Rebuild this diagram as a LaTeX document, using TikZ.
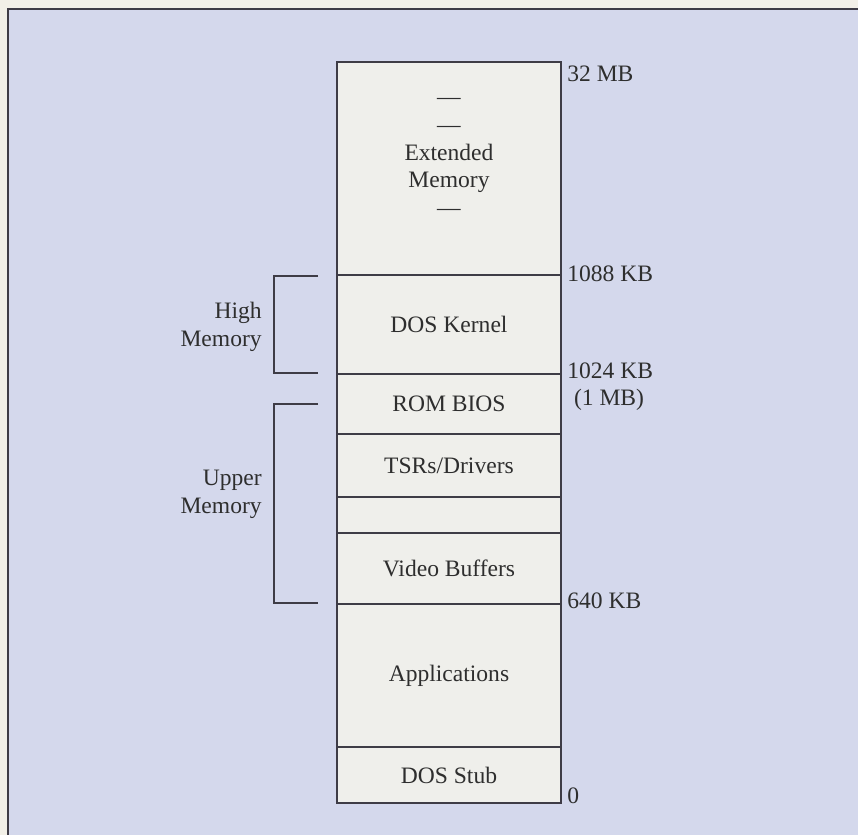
\documentclass[tikz,border=0pt]{standalone}
\usepackage{fontspec}
\setmainfont{Liberation Serif}
\definecolor{paper}{RGB}{242,240,232}
\definecolor{lav}{RGB}{212,216,236}
\definecolor{cell}{RGB}{239,239,235}
\definecolor{ink}{RGB}{62,60,70}
\begin{document}
\begin{tikzpicture}[blk/.style={draw=ink, fill=cell, line width=0.9pt, minimum width=4.48cm, inner sep=0pt},
  txt/.style={font=\fontsize{13.4}{15.9}\selectfont, text=black!82}]
  \tikzset{addr/.style={txt, anchor=base west, inner sep=0pt}}
  \tikzset{brk/.style={draw=ink, line width=0.9pt}}
  \useasboundingbox (0,0) rectangle (17.16,16.70);
  % page and panel
  \fill[paper] (0,0) rectangle (17.16,16.70);
  \fill[lav] (0.16,0) rectangle (17.16,16.52);
  \draw[ink, line width=1pt] (0.16,0) -- (0.16,16.52) -- (17.16,16.52);
  % memory blocks, top to bottom
  \node[blk, minimum height=4.26cm] (ext) at (8.98,13.33) {};
  \node[blk, minimum height=1.98cm, txt] (kern) at (8.98,10.21) {DOS Kernel};
  \node[blk, minimum height=1.20cm, txt] (rom) at (8.98,8.62) {ROM BIOS};
  \node[blk, minimum height=1.26cm, txt] (tsr) at (8.98,7.39) {TSRs/Drivers};
  \node[blk, minimum height=0.72cm] (gap) at (8.98,6.40) {};
  \node[blk, minimum height=1.42cm, txt] (vid) at (8.98,5.33) {Video Buffers};
  \node[blk, minimum height=2.86cm, txt] (app) at (8.98,3.19) {Applications};
  \node[blk, minimum height=1.12cm, txt] (stub) at (8.98,1.20) {DOS Stub};
  \node[txt, align=center] (extlbl) at (8.98,13.56) {---\\---\\Extended\\Memory\\---};
  % addresses
  \node[addr] (a32m) at (11.34,15.06) {32 MB};
  \node[addr] (a1088) at (11.34,11.06) {1088 KB};
  \node[addr] (a1024) at (11.34,9.12) {1024 KB};
  \node[txt, anchor=base, inner sep=0pt] (a1m) at (12.18,8.58) {(1 MB)};
  \node[addr] (a640) at (11.34,4.52) {640 KB};
  \node[addr] (a0) at (11.34,0.62) {0};
  % brackets
  \coordinate (hi1) at (6.36,11.18);
  \coordinate (hi2) at (6.36,9.24);
  \coordinate (up1) at (6.36,8.62);
  \coordinate (up2) at (6.36,4.64);
  \draw[brk] (hi1) -- ++(-0.88,0) |- (hi2);
  \draw[brk] (up1) -- ++(-0.88,0) |- (up2);
  \node[txt, align=right, anchor=east, inner sep=0pt] (himem) at (5.24,10.16) {High\\Memory};
  \node[txt, align=right, anchor=east, inner sep=0pt] (upmem) at (5.24,6.81) {Upper\\Memory};
\end{tikzpicture}
\end{document}
